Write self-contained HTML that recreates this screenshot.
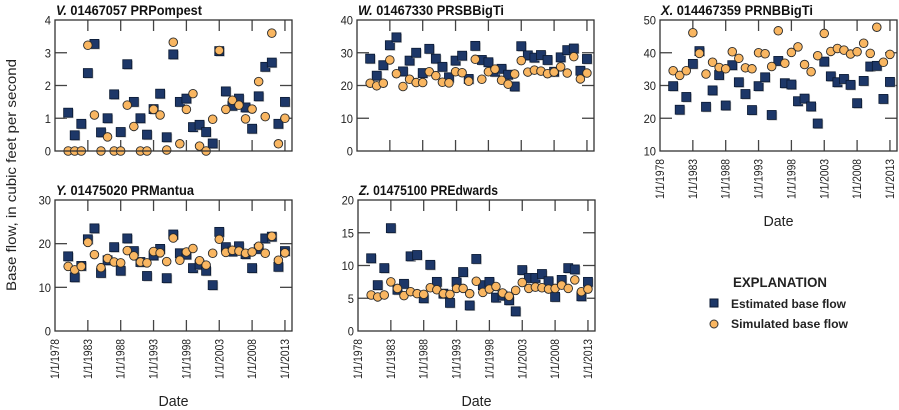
<!DOCTYPE html>
<html><head><meta charset="utf-8"><style>
html,body{margin:0;padding:0;background:#fff;}
svg{display:block;font-family:"Liberation Sans",sans-serif;}
</style></head><body>
<svg id="s" width="899" height="410" viewBox="0 0 899 410" xmlns="http://www.w3.org/2000/svg">
<text transform="translate(16,175) rotate(-90)" text-anchor="middle" font-size="14" fill="#222" textLength="232" lengthAdjust="spacingAndGlyphs">Base flow, in cubic feet per second</text>
<text x="733" y="287" font-size="14" font-weight="bold" fill="#222" textLength="94" lengthAdjust="spacingAndGlyphs">EXPLANATION</text>
<rect x="710" y="299" width="8" height="8" fill="#1d3768" stroke="#0b1a33" stroke-width="1"/>
<text x="731" y="308" font-size="12" font-weight="bold" fill="#222" textLength="115" lengthAdjust="spacingAndGlyphs">Estimated base flow</text>
<circle cx="714" cy="324" r="4" fill="#f9b661" stroke="#333" stroke-width="1"/>
<text x="731" y="328" font-size="12" font-weight="bold" fill="#222" textLength="117" lengthAdjust="spacingAndGlyphs">Simulated base flow</text>
</svg>
<script>
var NS="http://www.w3.org/2000/svg",svg=document.getElementById('s');
function el(t,a,txt){var e=document.createElementNS(NS,t);for(var k in a)e.setAttribute(k,a[k]);if(txt!=null)e.textContent=txt;svg.appendChild(e);return e;}
var panels=[
{L:55,T:20,B:151,min:0,max:4,step:1,lt:"V.",title:" 01467057 PRPompest",tw:146,labels:false,
 sq:[1.17,0.48,0.83,2.38,3.27,0.57,1.0,1.73,0.58,2.65,1.5,1.0,0.5,1.28,1.75,0.42,2.95,1.5,1.6,0.73,0.8,0.58,0.23,3.05,1.82,1.38,1.6,1.33,0.68,1.67,2.57,2.7,0.83,1.5],
 ci:[0,0,0,3.23,1.1,0,0.43,0,0,1.4,0.75,0,0,1.27,1.1,0.03,3.32,0.22,1.27,1.75,0.15,0,0.97,3.07,1.27,1.55,1.4,0.98,1.28,2.12,1.05,3.6,0.22,1.0]},
{L:357,T:20,B:151,min:0,max:40,step:10,lt:"W.",title:" 01467330 PRSBBigTi",tw:146,labels:false,
 sq:[28.2,23,26.2,32.3,34.7,24.3,27.6,30,23.8,31.2,28.2,25.7,22.5,27.6,29.1,22,32.1,27.8,27.1,24.2,25.1,23.3,19.7,32,29.2,28.5,29.3,27.8,24.2,28.6,30.8,31.3,24.5,28.1],
 ci:[20.7,19.9,20.7,27.8,23.6,19.7,21.9,20.9,20.9,24.2,23,21,20.8,24.2,23.9,21.3,28,21.9,24.2,25,21.6,20.4,23.5,27.6,24.1,24.7,24.4,23.6,24.1,25.7,23.8,28.8,22,23.8]},
{L:660,T:20,B:151,min:10,max:50,step:10,lt:"X.",title:" 014467359 PRNBBigTi",tw:152,labels:true,
 sq:[29.8,22.6,26.5,36.6,40.5,23.5,28.5,33.2,23.9,36.2,31,27.4,22.5,29.8,32.5,21,37.5,30.7,30.3,25.2,26,23.6,18.4,37.3,32.8,31,32,30.2,24.6,31.4,35.8,36,25.9,31.1],
 ci:[34.5,33.1,34.5,46.1,39.8,33.5,37.1,35.5,35.1,40.3,38.3,35.4,35.1,40,39.7,35.8,46.7,36.8,40.1,41.8,36.4,34.2,39.1,45.9,40.4,41.3,40.8,39.6,40.3,42.9,39.8,47.8,37.1,39.5]},
{L:55,T:200,B:331,min:0,max:30,step:10,lt:"Y.",title:" 01475020 PRMantua",tw:138,labels:true,
 sq:[17.1,12.3,14.9,21,23.5,13.3,16.2,19.2,13.8,21.2,18.3,15.8,12.6,17.3,18.8,12.1,22.1,17.8,17.5,14.4,15.2,13.8,10.5,22.7,19.2,18.2,19.4,17.6,14.4,18.8,21.2,21.6,14.7,18.3],
 ci:[14.8,14,14.8,20.3,17.5,14.5,16.6,15.8,15.6,18.4,17.2,15.8,15.6,18.2,17.9,15.9,21.3,16.2,18.1,18.9,16.1,15.1,17.8,21,18,18.5,18.3,17.8,18.1,19.4,17.8,21.7,16.2,17.9]},
{L:358,T:200,B:331,min:0,max:20,step:5,lt:"Z.",title:" 01475100 PREdwards",tw:139,labels:true,
 sq:[11.1,7,9.6,15.7,6.3,7.2,11.4,11.6,5,10.1,7.5,5.7,4.3,7.5,9,3.9,11,7,7.5,5.1,5.4,4.7,3,9.3,8.1,8.1,8.7,7.6,5.2,7.8,9.6,9.4,5.3,7.5],
 ci:[5.5,5.2,5.5,7.5,6.5,5.4,6,5.7,5.6,6.6,6.3,5.7,5.6,6.5,6.5,5.7,7.6,5.9,6.4,6.8,5.8,5.3,6.2,7.4,6.5,6.7,6.6,6.4,6.5,7,6.5,7.8,6,6.4]}
];
panels.forEach(function(p){
 var W=237,R=p.L+W,H=p.B-p.T,px=6.57;
 function X(yr){return p.L+(yr-1978)*px;}
 function Y(v){return p.B-(v-p.min)/(p.max-p.min)*H;}
 var t=el('text',{x:p.L+1,y:p.T-5,'font-size':14,'font-weight':'bold',fill:'#111',textLength:p.tw,lengthAdjust:'spacingAndGlyphs'});
 var a=document.createElementNS(NS,'tspan');a.setAttribute('font-style','italic');a.textContent=p.lt;t.appendChild(a);
 var b=document.createElementNS(NS,'tspan');b.textContent=p.title;t.appendChild(b);
 for(var v=p.min;v<=p.max+1e-9;v+=p.step){
  var y=Y(v);
  el('text',{x:p.L-4,y:y+4.5,'font-size':12,'text-anchor':'end',fill:'#222',textLength:(String(v).length*6.2),lengthAdjust:'spacingAndGlyphs'},String(v));
  if(v>p.min&&v<p.max){el('line',{x1:p.L,x2:p.L+12,y1:y,y2:y,stroke:'#444','stroke-width':1.3});el('line',{x1:R-12,x2:R,y1:y,y2:y,stroke:'#444','stroke-width':1.3});}
 }
 for(var yr=1983;yr<=2013;yr+=5){var x=X(yr);
  el('line',{x1:x,x2:x,y1:p.T,y2:p.T+11,stroke:'#444','stroke-width':1.3});
  el('line',{x1:x,x2:x,y1:p.B-11,y2:p.B,stroke:'#444','stroke-width':1.3});}
 if(p.labels){for(var yr=1978;yr<=2013;yr+=5){var x=X(yr);
  el('text',{transform:'translate('+(x+4)+','+(p.B+8)+') rotate(-90)','font-size':12,'text-anchor':'end',fill:'#222',textLength:40,lengthAdjust:'spacingAndGlyphs'},'1/1/'+yr);}
  el('text',{x:p.L+W/2,y:p.B+75,'font-size':15,'text-anchor':'middle',fill:'#222',textLength:30,lengthAdjust:'spacingAndGlyphs'},'Date');}
 for(var i=0;i<p.sq.length;i++){var x=X(1980+i),y=Y(p.sq[i]);
  el('rect',{x:x-4.5+1,y:y-4.5+1,width:9,height:9,fill:'#bbb'});
  el('rect',{x:x-4.5,y:y-4.5,width:9,height:9,fill:'#1d3768',stroke:'#0b1a33','stroke-width':0.8});}
 for(var i=0;i<p.ci.length;i++){var x=X(1980+i),y=Y(p.ci[i]);
  el('circle',{cx:x,cy:y,r:4.3,fill:'#f9b661',stroke:'#2a2a2a','stroke-width':0.9});}
 el('rect',{x:p.L,y:p.T,width:W,height:H,fill:'none',stroke:'#333','stroke-width':1.3});
});
</script>
</body></html>
